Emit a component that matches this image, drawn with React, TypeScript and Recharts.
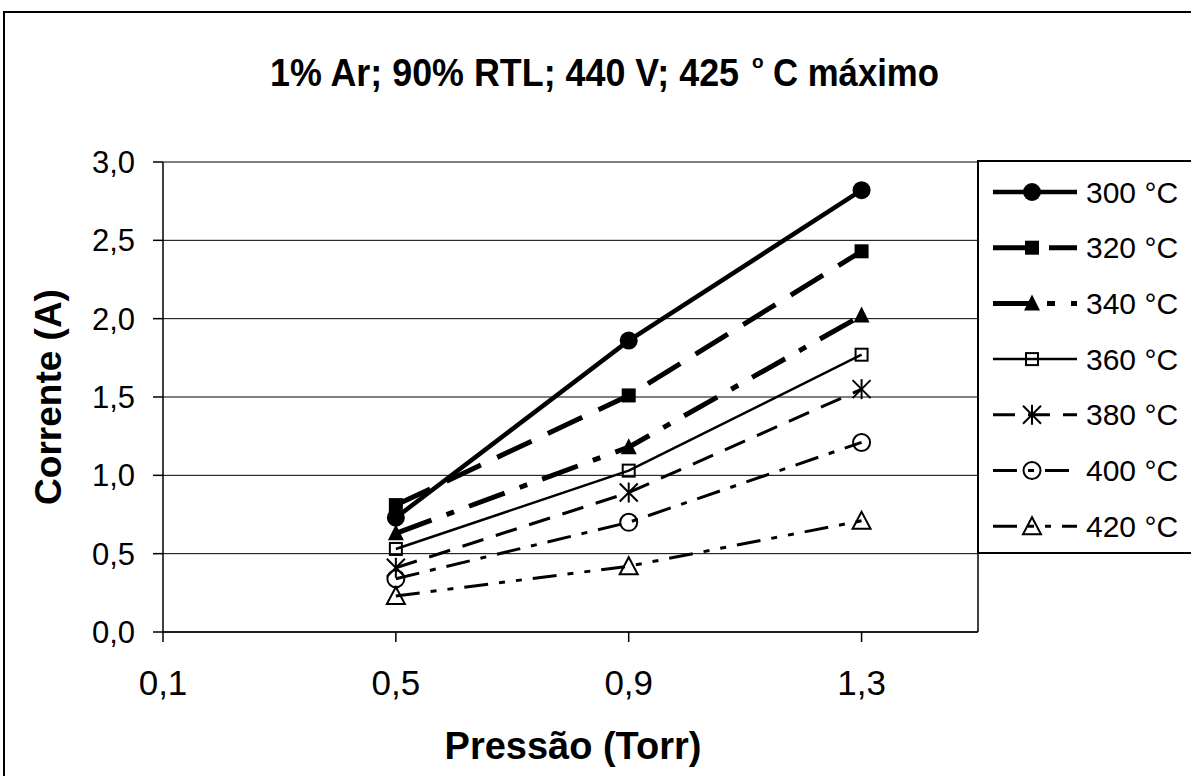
import { CartesianGrid, Line, LineChart, ReferenceLine, XAxis, YAxis } from 'recharts'

// pressão (Torr) no eixo x, corrente (A) por temperatura
const pressures = [0.5, 0.9, 1.3]
const current300 = [0.73, 1.86, 2.82]
const current320 = [0.81, 1.51, 2.43]
const current340 = [0.63, 1.18, 2.02]
const current360 = [0.53, 1.03, 1.77]
const current380 = [0.41, 0.89, 1.55]
const current400 = [0.34, 0.7, 1.21]
const current420 = [0.23, 0.42, 0.71]

const xTicks = [0.1, 0.5, 0.9, 1.3]
const yTicks = [0, 0.5, 1, 1.5, 2, 2.5, 3]

type MarkerKind = 'circle' | 'square' | 'triangle' | 'openSquare' | 'star' | 'openCircle' | 'openTriangle'

const series: { key: string; label: string; width: number; dash?: string; marker: MarkerKind }[] = [
  { key: 't300', label: '300 °C', width: 4.5, marker: 'circle' },
  { key: 't320', label: '320 °C', width: 5, dash: '38 18', marker: 'square' },
  { key: 't340', label: '340 °C', width: 5, dash: '38 16 8 16', marker: 'triangle' },
  { key: 't360', label: '360 °C', width: 2.5, marker: 'openSquare' },
  { key: 't380', label: '380 °C', width: 3, dash: '22 13', marker: 'star' },
  { key: 't400', label: '400 °C', width: 3, dash: '24 11 6 11', marker: 'openCircle' },
  { key: 't420', label: '420 °C', width: 3, dash: '24 11 6 11 6 11', marker: 'openTriangle' },
]

const data = pressures.map((p, i) => ({
  p,
  t300: current300[i],
  t320: current320[i],
  t340: current340[i],
  t360: current360[i],
  t380: current380[i],
  t400: current400[i],
  t420: current420[i],
}))

const FONT = '"Liberation Sans", Arial, sans-serif'
const comma = (v: number) => v.toFixed(1).replace('.', ',')

function Marker({ kind, cx, cy }: { kind: MarkerKind; cx: number; cy: number }) {
  switch (kind) {
    case 'circle':
      return <circle cx={cx} cy={cy} r={9} fill="#000" />
    case 'square':
      return <rect x={cx - 7} y={cy - 7} width={14} height={14} fill="#000" />
    case 'triangle':
      return <polygon points={`${cx},${cy - 9} ${cx - 8},${cy + 7} ${cx + 8},${cy + 7}`} fill="#000" />
    case 'openSquare':
      return <rect x={cx - 6} y={cy - 6} width={12} height={12} fill="none" stroke="#000" strokeWidth={2} />
    case 'star':
      return (
        <g stroke="#000" strokeWidth={2}>
          <line x1={cx - 9} y1={cy - 9} x2={cx + 9} y2={cy + 9} />
          <line x1={cx - 9} y1={cy + 9} x2={cx + 9} y2={cy - 9} />
          <line x1={cx} y1={cy - 10} x2={cx} y2={cy + 10} />
        </g>
      )
    case 'openCircle':
      return <circle cx={cx} cy={cy} r={8.5} fill="none" stroke="#000" strokeWidth={2} />
    case 'openTriangle':
      return (
        <polygon
          points={`${cx},${cy - 9} ${cx - 9},${cy + 8} ${cx + 9},${cy + 8}`}
          fill="none"
          stroke="#000"
          strokeWidth={2}
        />
      )
  }
}

// legenda desenhada à parte, fora da área do gráfico
function LegendBox() {
  return (
    <svg width={1191} height={776} style={{ position: 'absolute', left: 0, top: 0, pointerEvents: 'none' }}>
      <rect x={978} y={161} width={260} height={392} fill="#fff" stroke="#000" strokeWidth={2} />
      {series.map((s, i) => {
        const y = 192 + i * 55.7
        return (
          <g key={s.key}>
            <line x1={993} x2={1077} y1={y} y2={y} stroke="#000" strokeWidth={s.width} strokeDasharray={s.dash} />
            <Marker kind={s.marker} cx={1032} cy={y} />
            <text x={1086} y={y + 10.5} fontSize={30} fontFamily={FONT} fill="#000">
              {s.label}
            </text>
          </g>
        )
      })}
    </svg>
  )
}

function Labels() {
  const bold = { fontFamily: FONT, fontWeight: 'bold' as const }
  return (
    <svg width={1191} height={776} style={{ position: 'absolute', left: 0, top: 0, pointerEvents: 'none' }}>
      <rect x={4} y={12} width={1240} height={800} fill="none" stroke="#000" strokeWidth={2} />
      {/* título um pouco condensado, como no original */}
      <text x={0} y={0} transform="translate(270 86) scale(0.944 1)" {...bold} fontSize={38}>
        1% Ar; 90% RTL; 440 V; 425
      </text>
      <text x={752} y={68} {...bold} fontSize={19}>
        o
      </text>
      <text x={0} y={0} transform="translate(773 86) scale(0.914 1)" {...bold} fontSize={38}>
        C máximo
      </text>
      <text x={61} y={397} textAnchor="middle" transform="rotate(-90 61 397)" {...bold} fontSize={37}>
        Corrente (A)
      </text>
      <text x={573} y={759} textAnchor="middle" {...bold} fontSize={38}>
        Pressão (Torr)
      </text>
    </svg>
  )
}

export default function App() {
  return (
    <div style={{ position: 'absolute', left: 0, top: 0, width: 1191, height: 776, overflow: 'hidden', background: '#fff' }}>
      <LineChart
        width={1191}
        height={776}
        data={data}
        margin={{ top: 162, right: 213, bottom: 0, left: 0 }}
        style={{ fontFamily: FONT }}
      >
        <CartesianGrid vertical={false} stroke="#000" strokeWidth={1} />
        <ReferenceLine x={1.5} stroke="#000" strokeWidth={1.5} />
        <XAxis
          type="number"
          dataKey="p"
          domain={[0.1, 1.5]}
          ticks={xTicks}
          tickFormatter={comma}
          height={144}
          stroke="#000"
          strokeWidth={1.5}
          tickSize={10}
          tickMargin={28}
          tick={{ fontSize: 35, fill: '#000' }}
          allowDataOverflow
        />
        <YAxis
          type="number"
          domain={[0, 3]}
          ticks={yTicks}
          tickFormatter={comma}
          width={163}
          stroke="#000"
          strokeWidth={1.5}
          tickSize={10}
          tickMargin={18}
          tick={{ fontSize: 31, fill: '#000' }}
          allowDataOverflow
        />
        {series.map((s) => (
          <Line
            key={s.key}
            type="linear"
            dataKey={s.key}
            stroke="#000"
            strokeWidth={s.width}
            strokeDasharray={s.dash}
            isAnimationActive={false}
            activeDot={false}
            dot={(props: any) => <Marker key={`${s.key}-${props.index}`} kind={s.marker} cx={props.cx} cy={props.cy} />}
          />
        ))}
      </LineChart>
      <Labels />
      <LegendBox />
    </div>
  )
}
